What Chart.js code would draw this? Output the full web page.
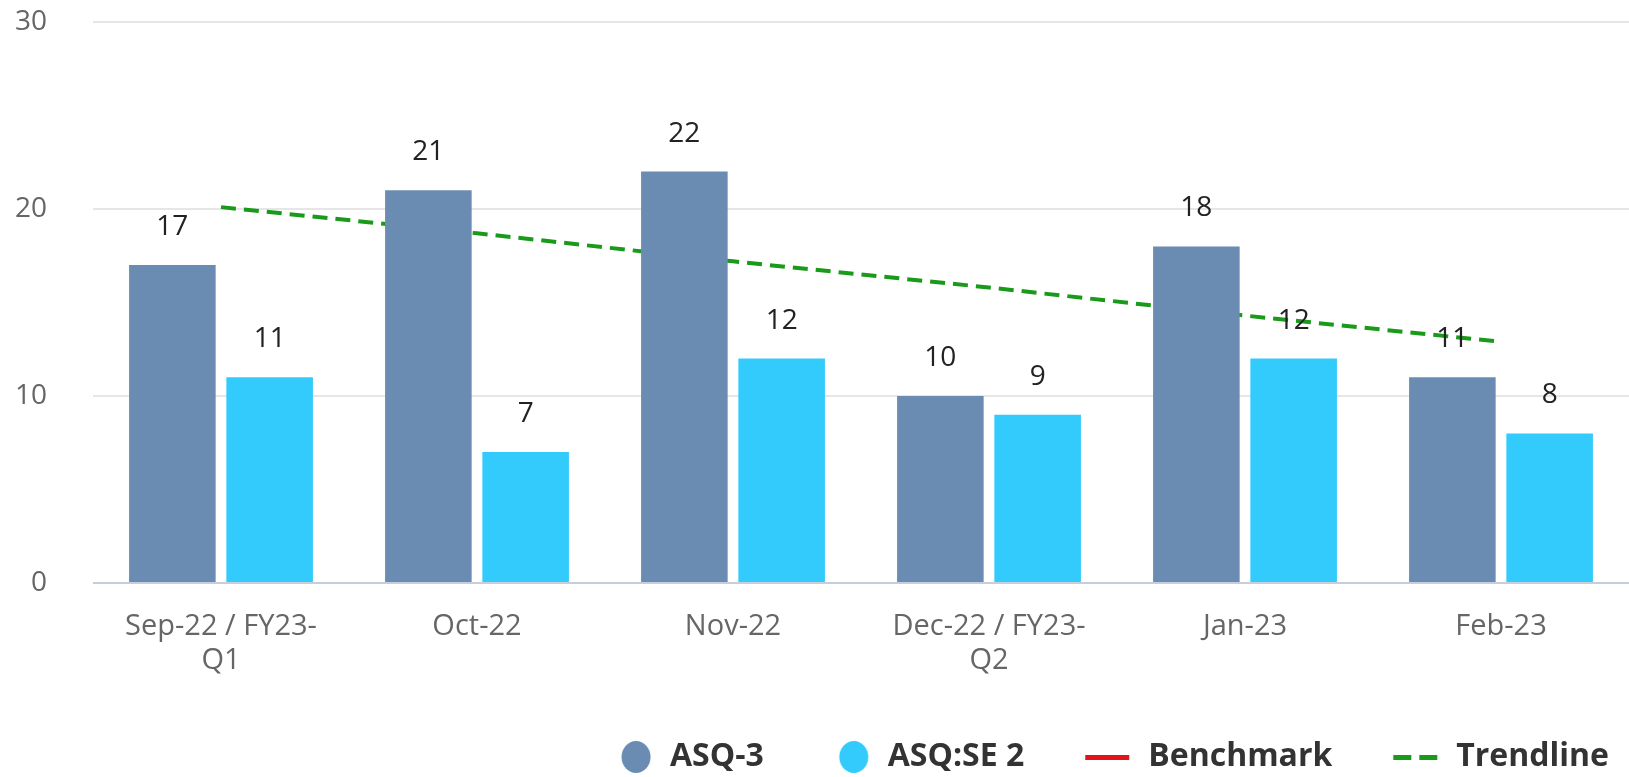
<!DOCTYPE html>
<html lang="en">
<head>
    <meta charset="UTF-8">
    <title>ASQ screenings</title>
    <style>
        body { margin: 0; background: #fff; }
        #wrap { width: 1629px; height: 777px; position: relative; }
    </style>
</head>
<body>
    <div id="wrap">
        <canvas id="chart-area"></canvas>
    </div>

    <script src="https://cdn.jsdelivr.net/npm/chart.js@4.4.1/dist/chart.umd.min.js"></script>
    <script>
        // data
        var months = [
            ['Sep-22 / FY23-', 'Q1'],
            'Oct-22',
            'Nov-22',
            ['Dec-22 / FY23-', 'Q2'],
            'Jan-23',
            'Feb-23'
        ];
        var asq3 = [17, 21, 22, 10, 18, 11];
        var asqSe2 = [11, 7, 12, 9, 12, 8];
        var benchmark = [];
        var trendline = [20.1, 18.7, 17.2, 15.8, 14.3, 12.9];
        var yTicks = [0, 10, 20, 30];

        var FONT = '"Open Sans", "Noto Sans", sans-serif';

        // legend symbols, drawn at the right end of a wide box
        var ICON_W = 88;
        function circleIcon(color) {
            var c = document.createElement('canvas');
            c.width = ICON_W; c.height = 34;
            var g = c.getContext('2d');
            g.fillStyle = color;
            g.beginPath();
            g.ellipse(ICON_W - 18, 17, 14.5, 16, 0, 0, Math.PI * 2);
            g.fill();
            return c;
        }
        function lineIcon(color, dashed) {
            var c = document.createElement('canvas');
            c.width = ICON_W; c.height = 5;
            var g = c.getContext('2d');
            g.fillStyle = color;
            if (dashed) {
                g.fillRect(ICON_W - 47, 0, 18, 5);
                g.fillRect(ICON_W - 21, 0, 18, 5);
            } else {
                g.fillRect(ICON_W - 47, 0, 44, 5);
            }
            return c;
        }
        var legendIcons = [
            circleIcon('#6b8cb2'),
            circleIcon('#33cbfc'),
            lineIcon('#e3131b', false),
            lineIcon('#1a9a1a', true)
        ];

        // numbers above bars
        var valueLabels = {
            id: 'valueLabels',
            afterDatasetsDraw: function (chart) {
                var ctx = chart.ctx;
                ctx.save();
                ctx.font = '28px ' + FONT;
                ctx.fillStyle = '#222';
                ctx.textAlign = 'center';
                ctx.textBaseline = 'middle';
                chart.data.datasets.forEach(function (ds, i) {
                    if (ds.type === 'line') return;
                    chart.getDatasetMeta(i).data.forEach(function (bar, j) {
                        ctx.fillText(ds.data[j], bar.x, bar.y - 38);
                    });
                });
                ctx.restore();
            }
        };

        var config = {
            type: 'bar',
            data: {
                labels: months,
                datasets: [{
                    label: 'ASQ-3',
                    data: asq3,
                    backgroundColor: '#6b8cb2',
                    order: 1
                }, {
                    label: 'ASQ:SE 2',
                    data: asqSe2,
                    backgroundColor: '#33cbfc',
                    order: 1
                }, {
                    type: 'line',
                    label: 'Benchmark',
                    data: benchmark,
                    borderColor: '#e3131b',
                    borderWidth: 4,
                    pointRadius: 0,
                    order: 2
                }, {
                    type: 'line',
                    label: 'Trendline',
                    data: trendline,
                    borderColor: '#1a9a1a',
                    borderWidth: 4,
                    borderDash: [15, 8],
                    pointRadius: 0,
                    fill: false,
                    order: 3
                }]
            },
            options: {
                responsive: true,
                maintainAspectRatio: false,
                animation: false,
                categoryPercentage: 0.76,
                barPercentage: 0.89,
                layout: {
                    padding: { top: 22, right: 0, left: 0, bottom: -6 }
                },
                scales: {
                    x: {
                        grid: { display: false, drawTicks: false },
                        border: { display: false },
                        ticks: {
                            color: '#666',
                            padding: 26,
                            maxRotation: 0,
                            autoSkip: false,
                            font: { family: FONT, size: 29, lineHeight: 1.2 }
                        },
                        afterFit: function (scale) {
                            scale.height = 138;
                        }
                    },
                    y: {
                        min: 0,
                        max: 30,
                        afterBuildTicks: function (scale) {
                            scale.ticks = yTicks.map(function (v) { return { value: v }; });
                        },
                        grid: {
                            drawTicks: false,
                            lineWidth: 2,
                            color: function (c) {
                                return c.tick && c.tick.value === 0 ? '#c6cedb' : '#e6e6e6';
                            }
                        },
                        border: { display: false },
                        ticks: {
                            color: '#666',
                            padding: 46,
                            font: { family: FONT, size: 28 }
                        },
                        afterFit: function (scale) {
                            scale.width = 93;
                            // tick padding should not push the plot down
                            scale.paddingTop = 0;
                            scale.paddingBottom = 0;
                        }
                    }
                },
                plugins: {
                    tooltip: { enabled: false },
                    legend: {
                        position: 'bottom',
                        align: 'end',
                        labels: {
                            usePointStyle: true,
                            pointStyleWidth: ICON_W,
                            padding: 20,
                            color: '#333',
                            font: { family: FONT, size: 32, weight: 'bold' },
                            generateLabels: function (chart) {
                                var items = Chart.defaults.plugins.legend.labels.generateLabels(chart);
                                items.forEach(function (it, i) {
                                    it.pointStyle = legendIcons[i];
                                });
                                return items;
                            }
                        }
                    }
                }
            },
            plugins: [valueLabels]
        };

        var ctx = document.getElementById('chart-area').getContext('2d');
        window.myChart = new Chart(ctx, config);
    </script>
</body>
</html>
